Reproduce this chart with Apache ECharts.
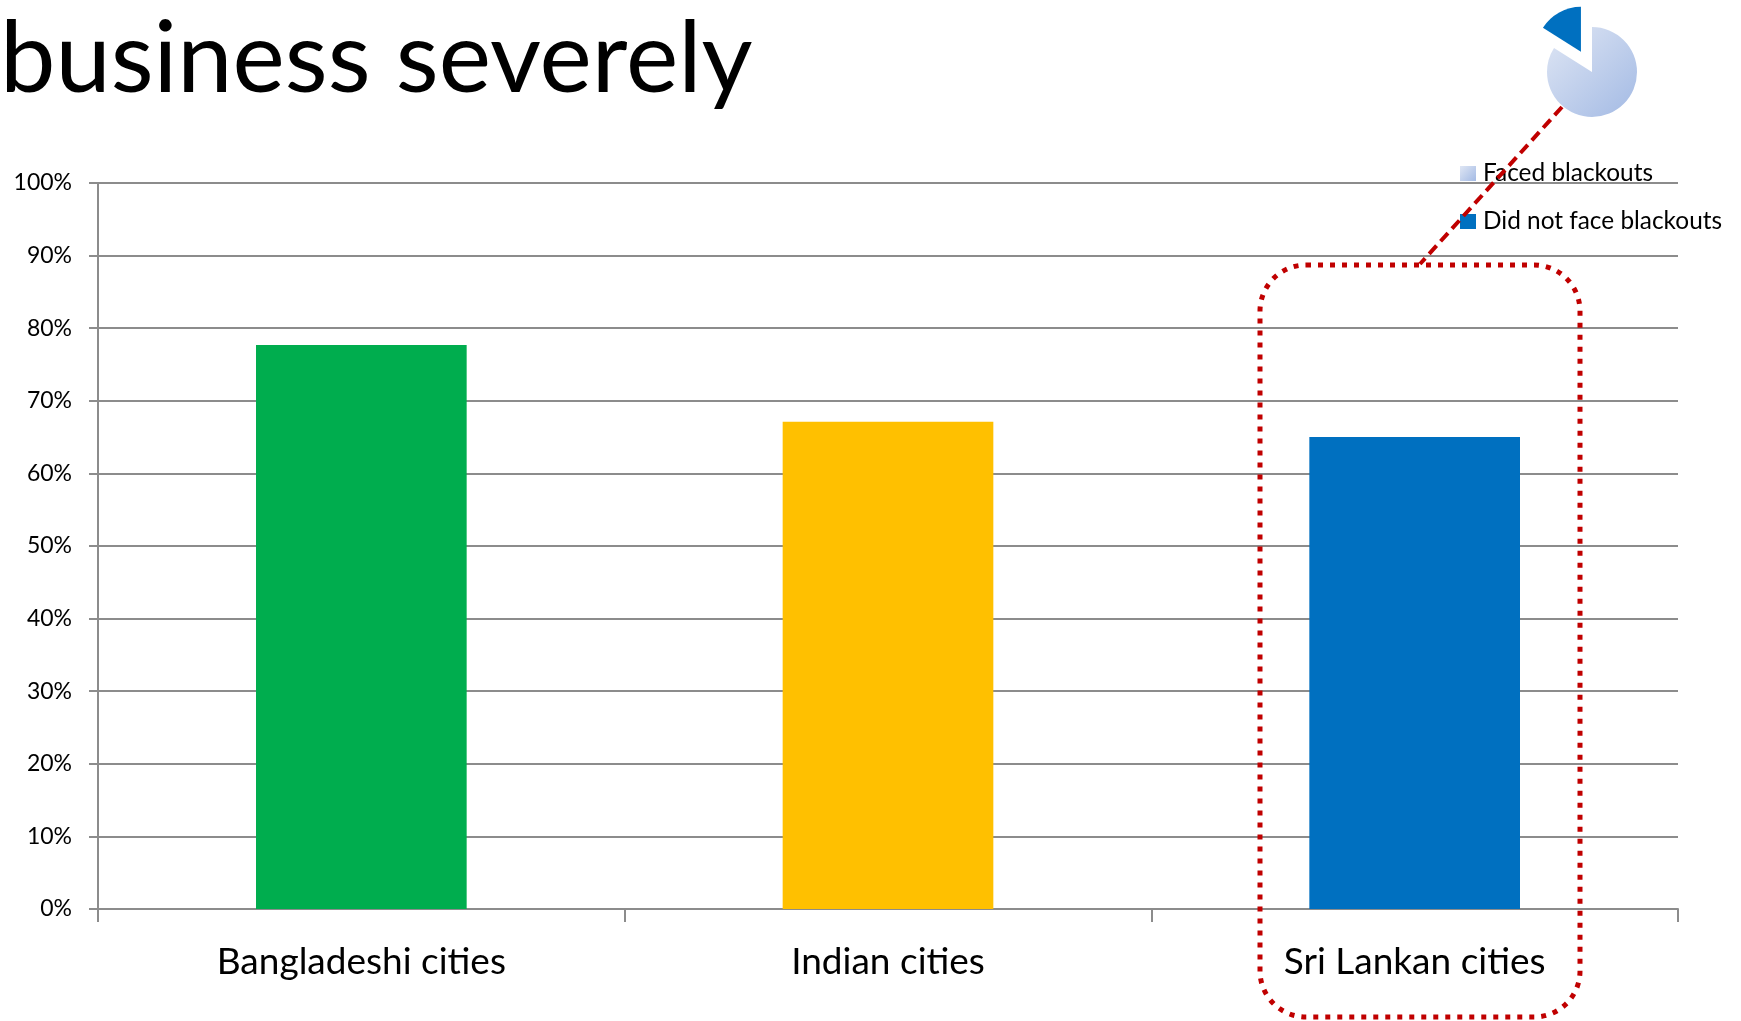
<!DOCTYPE html>
<html>
<head>
<meta charset="utf-8">
<script src="https://cdn.jsdelivr.net/npm/echarts@6/dist/echarts.min.js"></script>
<style>
html,body{margin:0;padding:0;background:#fff;}
#main{width:1741px;height:1021px;}
</style>
</head>
<body>
<div id="main"></div>
<script>
var titleText = 'business severely';
var categories = ['Bangladeshi cities', 'Indian cities', 'Sri Lankan cities'];
var shareValues = [77.7, 67.1, 65.0];
var barColors = ['#00ad4e', '#ffc000', '#0070c0'];
var yTicks = [0, 10, 20, 30, 40, 50, 60, 70, 80, 90, 100];
var pieNames = ['Faced blackouts', 'Did not face blackouts'];
var pieValues = [84, 16];

var FONT = 'Lato';
var chart = echarts.init(document.getElementById('main'));

var barData = shareValues.map(function (v, i) {
  return { value: v, itemStyle: { color: barColors[i] } };
});

var pieFill = new echarts.graphic.LinearGradient(0, 0, 1, 1, [
  { offset: 0, color: '#dfe6f4' },
  { offset: 1, color: '#a3bae4' }
]);
var pieData = [
  { name: pieNames[0], value: pieValues[0], itemStyle: { color: pieFill } },
  { name: pieNames[1], value: pieValues[1], selected: true, itemStyle: { color: '#0070c0' } }
];

chart.setOption({
  animation: false,
  backgroundColor: '#fff',
  title: {
    text: titleText,
    left: 0,
    top: 11,
    padding: 0,
    textStyle: { fontFamily: FONT, fontSize: 99, fontWeight: 'normal', color: '#000' }
  },
  legend: {
    data: pieNames,
    orient: 'vertical',
    left: 1460,
    top: 161.5,
    padding: 0,
    itemGap: 24,
    itemWidth: 16,
    itemHeight: 15,
    icon: 'rect',
    selectedMode: false,
    textStyle: { fontFamily: FONT, fontSize: 24.4, color: '#000', padding: [0, 0, 0, 2] }
  },
  grid: { left: 98, right: 63, top: 183, bottom: 112, outerBoundsMode: 'none' },
  xAxis: {
    type: 'category',
    data: categories,
    axisLine: { lineStyle: { color: '#8c8c8c', width: 2 } },
    axisTick: { show: true, length: 13, lineStyle: { color: '#8c8c8c', width: 2 } },
    axisLabel: { fontFamily: FONT, fontSize: 37, color: '#000', margin: 35 }
  },
  yAxis: {
    type: 'value',
    min: yTicks[0],
    max: yTicks[yTicks.length - 1],
    interval: yTicks[1] - yTicks[0],
    axisLine: { show: true, lineStyle: { color: '#8c8c8c', width: 2 } },
    axisTick: { show: true, length: 9, lineStyle: { color: '#8c8c8c', width: 2 } },
    splitLine: { show: true, lineStyle: { color: '#8c8c8c', width: 2 } },
    axisLabel: { fontFamily: FONT, fontSize: 23, color: '#000', margin: 26, formatter: '{value}%' }
  },
  series: [
    {
      type: 'bar',
      data: barData,
      barWidth: '40%',
      emphasis: { disabled: true }
    },
    {
      type: 'pie',
      center: [1592, 72],
      radius: 45,
      startAngle: 90,
      clockwise: true,
      selectedMode: 'single',
      selectedOffset: 23,
      label: { show: false },
      labelLine: { show: false },
      emphasis: { disabled: true },
      data: pieData
    }
  ],
  graphic: [
    {
      type: 'rect',
      z: 100,
      shape: { x: 1260, y: 265, width: 320, height: 752, r: 46 },
      style: { fill: 'none', stroke: '#c00000', lineWidth: 5, lineDash: [5, 7] }
    },
    {
      type: 'line',
      z: 100,
      shape: { x1: 1562, y1: 107, x2: 1420, y2: 264 },
      style: { stroke: '#c00000', lineWidth: 4, lineDash: [11, 6] }
    }
  ]
});
</script>
</body>
</html>
